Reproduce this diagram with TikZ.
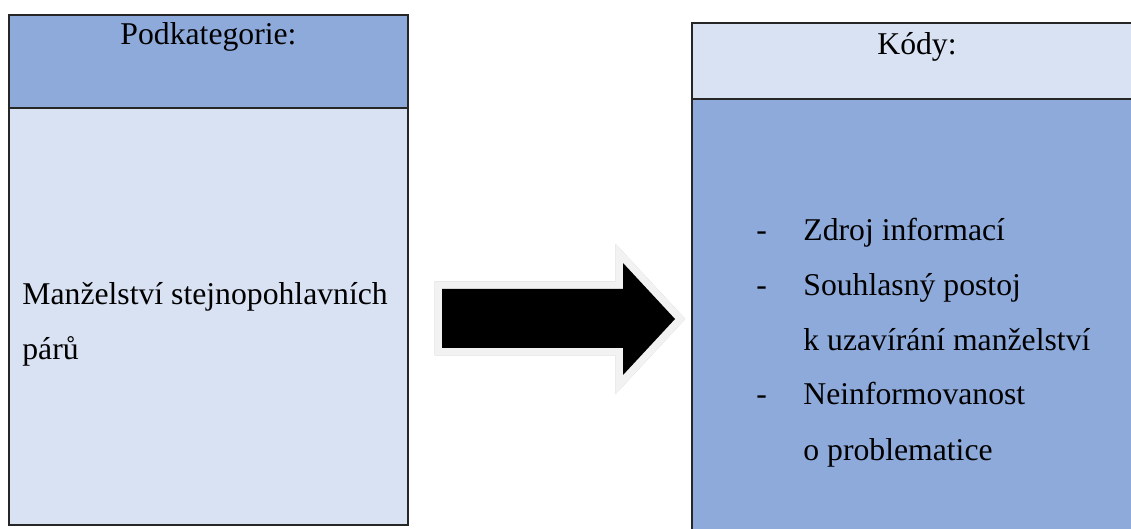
\documentclass[tikz,border=0pt]{standalone}
\usepackage{fontspec}
\setmainfont{Liberation Serif}
\definecolor{hdrblue}{HTML}{8EAADB}
\definecolor{paleblue}{HTML}{D9E2F3}
\definecolor{arrowrim}{HTML}{F2F2F2}
\definecolor{arrowshade}{HTML}{BFBFBF}
\begin{document}
	\begin{tikzpicture}
		[x=0.5pt,y=-0.5pt,
		boxpart/.style={draw=black!85,line width=0.75pt},
		mytext/.style={font=\fontsize{15.85}{19}\selectfont,inner sep=0pt},
		arrowbody/.style={line join=miter},]
		\clip (0,0) rectangle (1131,529);
		\fill[white] (0,0) rectangle (1131,529);
		% left box
		\draw[boxpart,fill=hdrblue] (9,15) rectangle (408,108);
		\draw[boxpart,fill=paleblue] (9,108) rectangle (408,525);
		\node[mytext,anchor=base,name=podkat] at (208.5,45) {Podkategorie:};
		\node[mytext,anchor=base west,name=sub1] at (22,305) {Manželství stejnopohlavních};
		\node[mytext,anchor=base west,name=sub2] at (22,360) {párů};
		% right box
		\draw[boxpart,fill=paleblue] (692,23) rectangle (1145,99);
		\draw[boxpart,fill=hdrblue] (692,99) rectangle (1145,545);
		\node[mytext,anchor=base,name=kody] at (917,55) {Kódy:};
		\foreach \y/\t [count=\i] in {241/Zdroj informací,296/Souhlasný postoj,351/k uzavírání manželství,405/Neinformovanost,460/o problematice}
		{
			\node[mytext,anchor=base west,name=code\i] at (803,\y) {\t};
		}
		\foreach \y [count=\i] in {241,296,405}
		{
			\node[mytext,anchor=base west,name=dash\i] at (756,\y) {-};
		}
		% arrow
		\coordinate (a1) at (442,289);
		\coordinate (a2) at (623,289);
		\coordinate (a3) at (623,263);
		\coordinate (a4) at (675,319);
		\coordinate (a5) at (623,375);
		\coordinate (a6) at (623,348);
		\coordinate (a7) at (442,348);
		\begin{scope}[shift={(2,5)}]
			\draw[arrowbody,draw=arrowshade,fill=arrowshade,line width=7.5pt] (a1) -- (a2) -- (a3) -- (a4) -- (a5) -- (a6) -- (a7) -- cycle;
		\end{scope}
		\draw[arrowbody,draw=arrowrim,fill=arrowrim,line width=7.5pt] (a1) -- (a2) -- (a3) -- (a4) -- (a5) -- (a6) -- (a7) -- cycle;
		\fill[black] (a1) -- (a2) -- (a3) -- (a4) -- (a5) -- (a6) -- (a7) -- cycle;
	\end{tikzpicture}
\end{document}
